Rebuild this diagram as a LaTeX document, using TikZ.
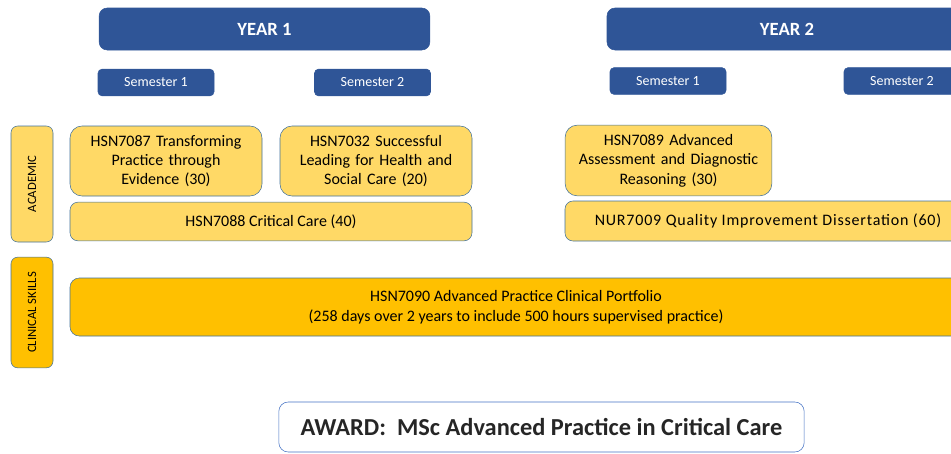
\documentclass[tikz,border=0pt]{standalone}
\usepackage{fontspec}
\setmainfont{Carlito}

\definecolor{yearblue}{HTML}{2F5597}
\definecolor{edgeblue}{HTML}{41719C}
\definecolor{paleyellow}{HTML}{FFD966}
\definecolor{gold}{HTML}{FFC000}
\definecolor{awardblue}{HTML}{4472C4}

\tikzset{
    yearbox/.style={fill=yearblue,draw=yearblue,rounded corners=6pt,text=white,
        font=\fontsize{14}{16}\selectfont\bfseries,inner sep=0pt},
    sembox/.style={fill=yearblue,draw=yearblue,rounded corners=3pt,text=white,
        font=\fontsize{10.5}{12}\selectfont,inner sep=0pt,minimum width=87pt,minimum height=20pt},
    modbox/.style={fill=paleyellow,draw=edgeblue,thin,rounded corners=9pt,
        font=\fontsize{12}{14.5}\selectfont,align=center,inner sep=0pt},
    sidebox/.style={draw=edgeblue,thin,rounded corners=5pt,rotate=90,
        font=\fontsize{9.5}{11}\selectfont,inner sep=0pt,minimum width=#1,minimum height=31.5pt},
}

\begin{document}
\begin{tikzpicture}[x=0.75pt,y=-0.75pt]
    % the page, right side cut off as in the original
    \clip (0,0) rectangle (951,454);

    % draw the years
    \node[yearbox,minimum width=248pt,minimum height=31.5pt] (year1) at (264.5,29) {YEAR 1};
    \node[yearbox,minimum width=270pt,minimum height=31.5pt] (year2) at (787,29) {YEAR 2};

    % draw the semesters
    \foreach \name/\x/\y/\txt in {
        y1sem1/156/82.5/Semester 1,
        y1sem2/372.5/82.5/Semester 2,
        y2sem1/668/81/Semester 1,
        y2sem2/902/81/Semester 2}
            \node[sembox] (\name) at (\x,\y) {\txt};

    % the two rows down the left side
    \node[sidebox=87pt,fill=paleyellow] (academic) at (32,184) {ACADEMIC};
    \node[sidebox=83pt,fill=gold] (clinical) at (32,312.5) {CLINICAL SKILLS};

    % academic modules, year 1
    \node[modbox,minimum width=144pt,minimum height=52.5pt,text width=140pt] (m7087) at (166,161)
        {HSN7087 Transforming\\ Practice through\\ Evidence (30)};
    \node[modbox,minimum width=144pt,minimum height=52.5pt,text width=140pt] (m7032) at (376,161)
        {HSN7032 Successful\\ Leading for Health and\\ Social Care (20)};
    \node[modbox,rounded corners=6pt,minimum width=301.5pt,minimum height=29pt] (m7088) at (271,221.5)
        {HSN7088 Critical Care (40)};

    % academic modules, year 2
    \node[modbox,minimum width=155pt,minimum height=53pt,text width=150pt] (m7089) at (668.5,160.5)
        {HSN7089 Advanced\\ Assessment and Diagnostic\\ Reasoning (30)};
    \node[modbox,rounded corners=6pt,minimum width=304.5pt,minimum height=30pt,
          font=\fontsize{12}{14.5}\selectfont\addfontfeature{LetterSpace=5}] (m7009) at (768,221)
        {NUR7009 Quality Improvement Dissertation (60)};

    % clinical portfolio over both years
    \node[modbox,fill=gold,rounded corners=7pt,minimum width=669pt,minimum height=43.5pt,
          font=\fontsize{12}{15}\selectfont] (portfolio) at (516,307)
        {HSN7090 Advanced Practice Clinical Portfolio\\
         (258 days over 2 years to include 500 hours supervised practice)};

    % the award
    \node[draw=awardblue,thin,fill=white,rounded corners=7pt,minimum width=394pt,minimum height=37.5pt,
          font=\fontsize{18.3}{20}\selectfont\bfseries,text=black!85] (award) at (541.5,427)
        {AWARD:\ \ MSc Advanced Practice in Critical Care};
\end{tikzpicture}
\end{document}
